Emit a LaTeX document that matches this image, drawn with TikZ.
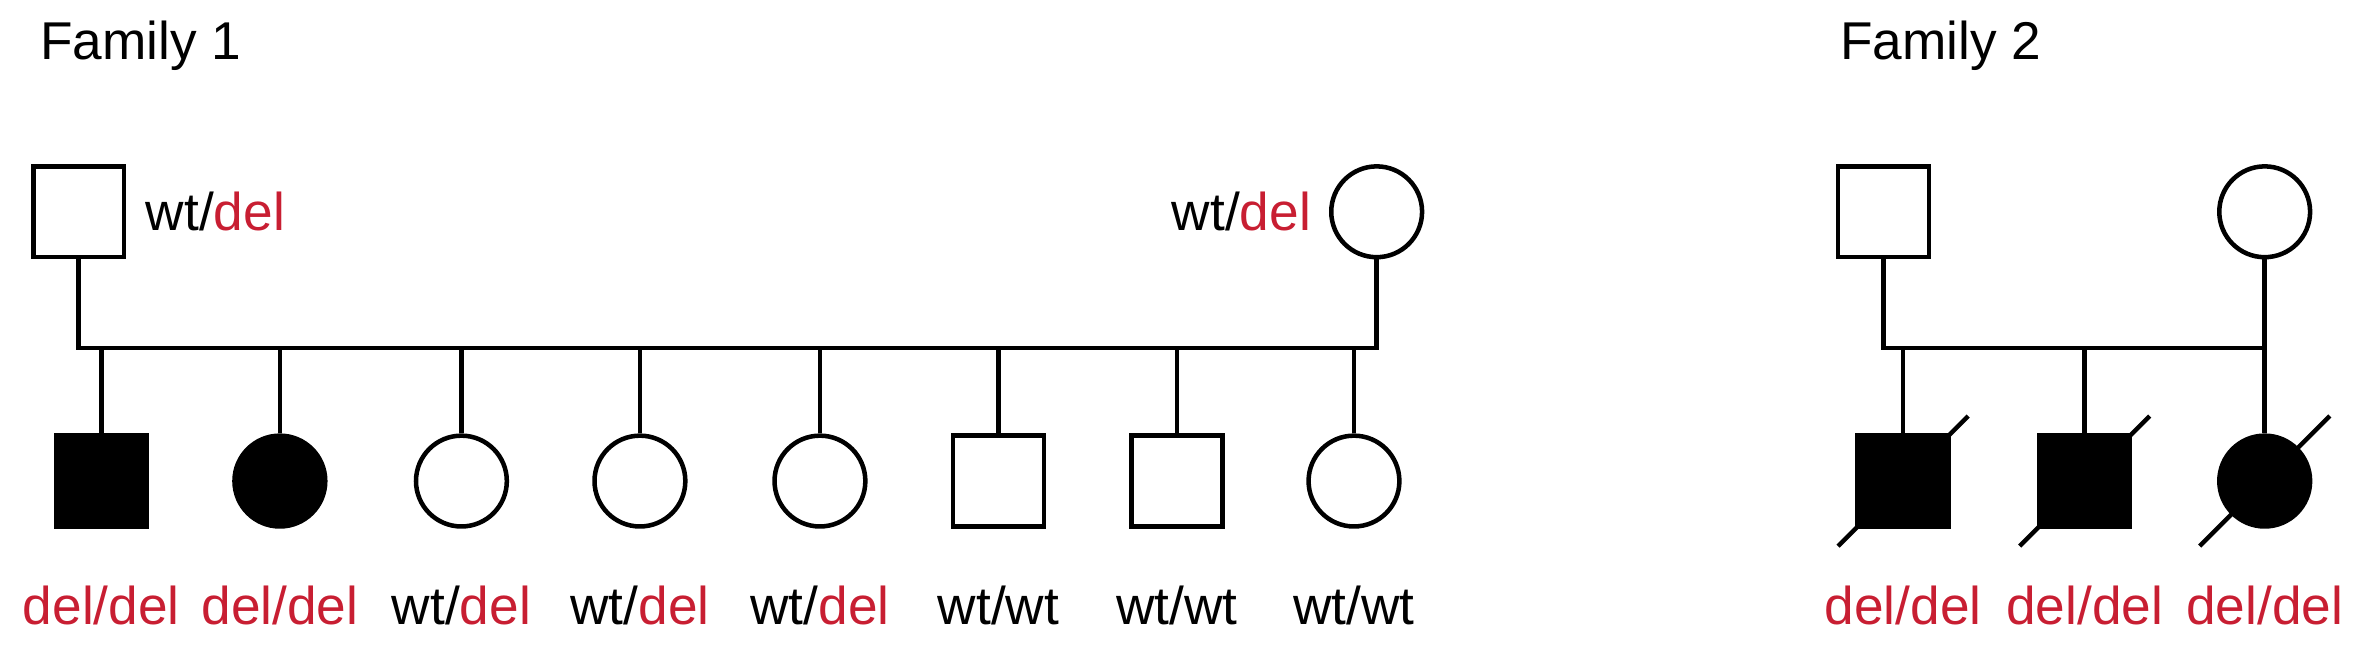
\documentclass[tikz,border=0pt]{standalone}
\usepackage{fontspec}
\setmainfont{Liberation Sans}
\usetikzlibrary{calc, positioning}
\definecolor{delred}{RGB}{200,30,50}
\tikzstyle{male} = [rectangle, draw, minimum size=0.6cm, inner sep=0pt]
\tikzstyle{female} = [circle, draw, minimum size=0.6cm, inner sep=0pt]
\tikzstyle{affected} = [fill=black]
\tikzstyle{geno} = [font=\fontsize{10}{12}\selectfont, inner sep=0pt]
\newcommand{\del}{\textcolor{delred}{del}}
\newcommand{\deldel}{\textcolor{delred}{del/del}}

\begin{document}
\begin{tikzpicture}[x=0.01cm, y=-0.01cm, line width=0.85pt]
        \useasboundingbox (0, 0) rectangle (1560, 428);
        \node[geno, anchor=west] at (25, 30) (FamA) {Family 1};
        \node[geno, anchor=west] at (1215, 30) (FamB) {Family 2};

        % family 1
        \node[male] at (52, 140) (FatherA) {};
        \node[female] at (910, 140) (MotherA) {};
        \node[geno, anchor=west] at (95, 140) {wt/\del};
        \node[geno, anchor=east] at (868, 140) {wt/\del};
        \coordinate (MateA) at (52, 230);
        \coordinate (MateAr) at (910, 230);
        \draw (FatherA) -- (MateA) -- (MateAr) -- (MotherA);

        \node[male, affected] at (67, 318) (ChildA1) {};
        \node[female, affected] at (185, 318) (ChildA2) {};
        \node[female] at (305, 318) (ChildA3) {};
        \node[female] at (423, 318) (ChildA4) {};
        \node[female] at (542, 318) (ChildA5) {};
        \node[male] at (660, 318) (ChildA6) {};
        \node[male] at (778, 318) (ChildA7) {};
        \node[female] at (895, 318) (ChildA8) {};
        \foreach \i in {1,...,8}
            \draw (ChildA\i) -- (ChildA\i |- MateA);

        \node[geno] at (67, 400) {\deldel};
        \node[geno] at (185, 400) {\deldel};
        \node[geno] at (305, 400) {wt/\del};
        \node[geno] at (423, 400) {wt/\del};
        \node[geno] at (542, 400) {wt/\del};
        \node[geno] at (660, 400) {wt/wt};
        \node[geno] at (778, 400) {wt/wt};
        \node[geno] at (895, 400) {wt/wt};

        % family 2
        \node[male] at (1245, 140) (FatherB) {};
        \node[female] at (1497, 140) (MotherB) {};
        \coordinate (MateB) at (1245, 230);
        \coordinate (MateBr) at (1497, 230);
        \draw (FatherB) -- (MateB) -- (MateBr) -- (MotherB);

        \node[male, affected] at (1258, 318) (ChildB1) {};
        \node[male, affected] at (1378, 318) (ChildB2) {};
        \node[female, affected] at (1497, 318) (ChildB3) {};
        \foreach \i in {1,2,3} {
            \draw (ChildB\i) -- (ChildB\i |- MateB);
            \draw (ChildB\i) ++(-43, 43) -- ++(86, -86);
            \node[geno] at ($(ChildB\i)+(0, 82)$) {\deldel};
        }
    \end{tikzpicture}
\end{document}
